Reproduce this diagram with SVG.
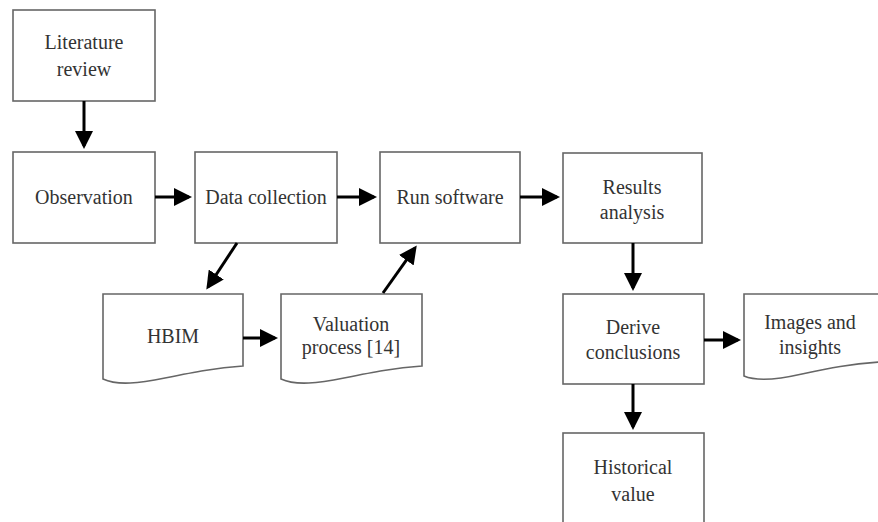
<svg xmlns="http://www.w3.org/2000/svg" width="878" height="522" viewBox="0 0 878 522">
<style>
.box{fill:#fff;stroke:#666;stroke-width:1.6}
.t{font-family:"Liberation Serif","Times New Roman",serif;font-size:20px;fill:#333;text-anchor:middle}
.c{stroke:#000;stroke-width:3;fill:none}
</style>
<defs>
<marker id="ah" markerWidth="6" markerHeight="6" refX="5" refY="3" orient="auto" markerUnits="strokeWidth">
<path d="M0,0 L6,3 L0,6 Z" fill="#000"/>
</marker>
</defs>
<rect width="878" height="522" fill="#fff"/>
<g id="lit"><rect class="box" x="13" y="10" width="142" height="91"/><text class="t" x="84" y="49">Literature</text><text class="t" x="84" y="76">review</text></g>
<g id="obs"><rect class="box" x="13" y="152" width="142" height="91"/><text class="t" x="84" y="204">Observation</text></g>
<g id="data"><rect class="box" x="195" y="152" width="142" height="91"/><text class="t" x="266" y="204">Data collection</text></g>
<g id="run"><rect class="box" x="380" y="152" width="140" height="91"/><text class="t" x="450" y="204">Run software</text></g>
<g id="results"><rect class="box" x="563" y="153" width="139" height="90"/><text class="t" x="632" y="194">Results</text><text class="t" x="632" y="219">analysis</text></g>
<g id="derive"><rect class="box" x="563" y="294" width="141" height="90"/><text class="t" x="633" y="334">Derive</text><text class="t" x="633" y="359">conclusions</text></g>
<g id="hist"><rect class="box" x="563" y="433" width="141" height="100"/><text class="t" x="633" y="474">Historical</text><text class="t" x="633" y="501">value</text></g>
<g id="hbim"><path class="box" d="M103,294 H243 V366 C215,368 195,372 165,378 C140,383 118,386 103,379 Z"/><text class="t" x="173" y="343">HBIM</text></g>
<g id="val"><path class="box" d="M281,294 H422 V366 C394,368 374,372 344,378 C319,383 296,386 281,379 Z"/><text class="t" x="351" y="331">Valuation</text><text class="t" x="351" y="354">process [14]</text></g>
<g id="img"><path class="box" d="M744,294 H880 V362 C850,364 830,368 802,374 C780,379 758,382 744,376 Z"/><text class="t" x="810" y="329">Images and</text><text class="t" x="810" y="354">insights</text></g>
<g id="connectors">
<line class="c" x1="84" y1="101" x2="84" y2="146" marker-end="url(#ah)"/>
<line class="c" x1="155" y1="197" x2="189" y2="197" marker-end="url(#ah)"/>
<line class="c" x1="337" y1="197" x2="374" y2="197" marker-end="url(#ah)"/>
<line class="c" x1="520" y1="197" x2="557" y2="197" marker-end="url(#ah)"/>
<line class="c" x1="237" y1="243" x2="208" y2="287" marker-end="url(#ah)"/>
<line class="c" x1="383" y1="293" x2="415" y2="248" marker-end="url(#ah)"/>
<line class="c" x1="243" y1="338" x2="275" y2="338" marker-end="url(#ah)"/>
<line class="c" x1="633" y1="243" x2="633" y2="288" marker-end="url(#ah)"/>
<line class="c" x1="704" y1="340" x2="738" y2="340" marker-end="url(#ah)"/>
<line class="c" x1="633" y1="384" x2="633" y2="427" marker-end="url(#ah)"/>
</g>
</svg>
